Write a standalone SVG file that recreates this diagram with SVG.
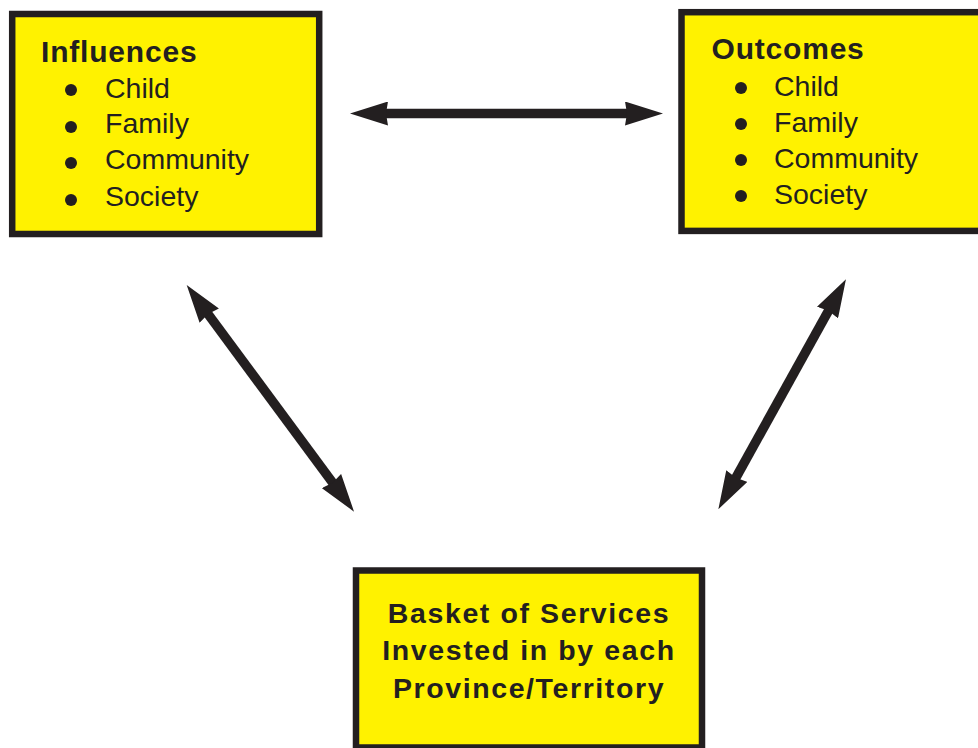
<svg xmlns="http://www.w3.org/2000/svg" width="978" height="748" viewBox="0 0 978 748">
  <style>
    .box { fill: #FFF200; stroke: #231F20; stroke-width: 6.5; }
    .title { font-family: "Liberation Sans", Arial, sans-serif; font-weight: bold; font-size: 30px; fill: #231F20; letter-spacing: 0.8px; }
    .item { font-family: "Liberation Sans", Arial, sans-serif; font-size: 28.5px; fill: #231F20; }
    .center { font-family: "Liberation Sans", Arial, sans-serif; font-weight: bold; font-size: 28.5px; fill: #231F20; letter-spacing: 1.6px; text-anchor: middle; }
    .dot { fill: #231F20; }
    .link { stroke: #231F20; stroke-width: 9.5; fill: none; marker-start: url(#head); marker-end: url(#head); }
  </style>
  <defs>
    <!-- arrowhead: back at x=0, tip at x=38; the line ends at x=8 -->
    <marker id="head" viewBox="0 0 38 24" markerWidth="38" markerHeight="24" refX="8" refY="12" markerUnits="userSpaceOnUse" orient="auto-start-reverse">
      <path d="M0,0 L38,12 L0,24 L2,12 Z" fill="#231F20"/>
    </marker>
  </defs>

  <rect width="978" height="748" fill="#FFFFFF"/>

  <g id="influences">
    <rect class="box" x="12.2" y="14" width="307" height="220"/>
    <text class="title" x="41" y="62">Influences</text>
    <circle class="dot" cx="71" cy="90" r="6"/>
    <circle class="dot" cx="71" cy="127" r="6"/>
    <circle class="dot" cx="71" cy="163" r="6"/>
    <circle class="dot" cx="71" cy="200" r="6"/>
    <text class="item" x="105" y="98">Child</text>
    <text class="item" x="105" y="133">Family</text>
    <text class="item" x="105" y="169">Community</text>
    <text class="item" x="105" y="206">Society</text>
  </g>

  <g id="outcomes">
    <rect class="box" x="681.5" y="12.2" width="310" height="218.7"/>
    <text class="title" x="711.5" y="58.5">Outcomes</text>
    <circle class="dot" cx="741" cy="88" r="6"/>
    <circle class="dot" cx="741" cy="124" r="6"/>
    <circle class="dot" cx="741" cy="160" r="6"/>
    <circle class="dot" cx="741" cy="196" r="6"/>
    <text class="item" x="774" y="95.5">Child</text>
    <text class="item" x="774" y="131.5">Family</text>
    <text class="item" x="774" y="168">Community</text>
    <text class="item" x="774" y="204">Society</text>
  </g>

  <g id="basket">
    <rect class="box" x="356" y="570.5" width="346" height="177"/>
    <text class="center" x="529" y="623">Basket of Services</text>
    <text class="center" x="529" y="660">Invested in by each</text>
    <text class="center" x="529" y="698">Province/Territory</text>
  </g>

  <g id="connectors">
    <!-- influences <-> outcomes -->
    <line class="link" x1="380" y1="113.5" x2="633" y2="113.5"/>
    <!-- influences <-> basket -->
    <line class="link" x1="204.5" y1="309.2" x2="336.2" y2="487.5"/>
    <!-- outcomes <-> basket -->
    <line class="link" x1="831.4" y1="305.5" x2="732.9" y2="483.1"/>
  </g>
</svg>
